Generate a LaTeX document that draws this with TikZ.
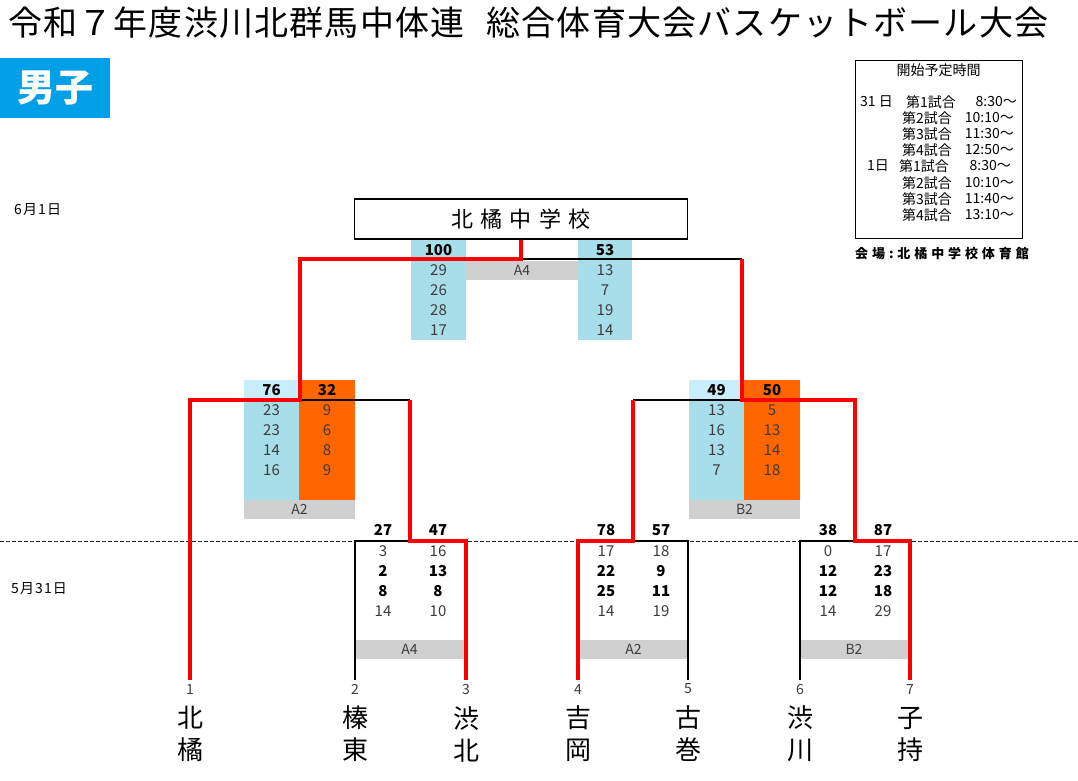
\documentclass[tikz,border=0pt]{standalone}
\usepackage{fontspec}
\setmainfont{Noto Sans CJK JP}
\definecolor{winred}{RGB}{255,0,0}
\definecolor{cellblue}{RGB}{167,222,233}
\definecolor{topblue}{RGB}{200,238,252}
\definecolor{cellorange}{RGB}{255,102,0}
\definecolor{boxgray}{RGB}{208,208,208}
\definecolor{headblue}{RGB}{0,160,233}
\definecolor{numgray}{RGB}{60,60,60}
\begin{document}
\begin{tikzpicture}[x=1pt,y=-1pt,
  win/.style={draw=winred, line width=4pt},
  lose/.style={draw=black, line width=1.1pt},
  sc/.style={inner sep=0pt, font=\fontsize{15}{15}\selectfont, text=numgray},
  scb/.style={inner sep=0pt, font=\fontsize{15}{15}\selectfont\bfseries, text=black},
  gbox/.style={fill=boxgray, inner sep=0pt, minimum height=19pt, font=\fontsize{14}{14}\selectfont, text=numgray},
  sched/.style={inner sep=0pt, font=\fontsize{14}{14}\selectfont},
  numlab/.style={inner sep=0pt, font=\fontsize{14}{14}\selectfont, text=numgray},
  team/.style={inner sep=0pt, align=center, font=\fontsize{26}{32}\selectfont},
  datelab/.style={anchor=west, inner sep=0pt, font=\fontsize{14}{14}\selectfont\addfontfeature{LetterSpace=8}},
]
\useasboundingbox (0,0) rectangle (1078,780);
\fill[white] (0,0) rectangle (1078,780);

% title and header
\node[anchor=west, inner sep=0pt, font=\fontsize{34}{34}\selectfont\addfontfeature{LetterSpace=3.5}] (title) at (8,23) {令和７年度渋川北群馬中体連\hspace{22pt}総合体育大会バスケットボール大会};
\node[fill=headblue, text=white, minimum width=110pt, minimum height=60pt, inner sep=0pt, font=\fontsize{38}{38}\selectfont\bfseries] (hdr) at (55,88) {男子};

% schedule
\node[draw, line width=1.3pt, minimum width=167pt, minimum height=178pt, inner sep=0pt, anchor=north west] (schedbox) at (855,60) {};
\node[sched] (sh) at (938.5,70) {開始予定時間};
\node[sched, anchor=west] (r1d) at (860,102) {31 日};
\node[sched, anchor=west] (r1g) at (906,102) {第1試合};
\node[sched, anchor=east] (r1t) at (1017,102) {8:30～};
\node[sched, anchor=west] (r2g) at (902,118) {第2試合};
\node[sched, anchor=east] (r2t) at (1014,118) {10:10～};
\node[sched, anchor=west] (r3g) at (902,134) {第3試合};
\node[sched, anchor=east] (r3t) at (1014,134) {11:30～};
\node[sched, anchor=west] (r4g) at (902,150) {第4試合};
\node[sched, anchor=east] (r4t) at (1014,150) {12:50～};
\node[sched, anchor=west] (r5d) at (867,166) {1日};
\node[sched, anchor=west] (r5g) at (899,166) {第1試合};
\node[sched, anchor=east] (r5t) at (1011,166) {8:30～};
\node[sched, anchor=west] (r6g) at (902,183) {第2試合};
\node[sched, anchor=east] (r6t) at (1014,183) {10:10～};
\node[sched, anchor=west] (r7g) at (902,199) {第3試合};
\node[sched, anchor=east] (r7t) at (1014,199) {11:40～};
\node[sched, anchor=west] (r8g) at (902,215) {第4試合};
\node[sched, anchor=east] (r8t) at (1014,215) {13:10～};
\node[anchor=west, inner sep=0pt, font=\fontsize{13}{13}\selectfont\bfseries\addfontfeature{LetterSpace=30}] (venue) at (855,254) {会場:北橘中学校体育館};

% dates and day separator
\node[datelab] (d1) at (14,210) {6月1日};
\node[datelab] (d2) at (11,589) {5月31日};
\draw[black!85, line width=0.8pt, dash pattern=on 4pt off 2pt] (0,541) -- (1078,541);

% champion
\node[draw, line width=1.2pt, minimum width=333pt, minimum height=40pt, inner sep=0pt, font=\fontsize{22}{22}\selectfont\addfontfeature{LetterSpace=34}] (champ) at (521,219) {北橘中学校};

% final cells
\fill[cellblue] (411,240) rectangle (466,340);
\fill[cellblue] (578,240) rectangle (632,340);
\node[gbox, minimum width=112pt] (fA4) at (522,270.5) {A4};
\node[scb] (fl0) at (438.5,250) {100};
\node[scb] (fr0) at (605,250) {53};
\foreach \v [count=\i] in {29,26,28,17} \node[sc] (fl\i) at (438.5,250+20*\i) {\v};
\foreach \v [count=\i] in {13,7,19,14} \node[sc] (fr\i) at (605,250+20*\i) {\v};

% semifinal left
\fill[topblue] (244,380) rectangle (299,400);
\fill[cellblue] (244,400) rectangle (299,500);
\fill[cellorange] (299,380) rectangle (355,500);
\node[gbox, minimum width=111pt] (sA2) at (299.5,509.5) {A2};
\node[scb] (sll0) at (271.5,390) {76};
\node[scb] (slr0) at (327,390) {32};
\foreach \v [count=\i] in {23,23,14,16} \node[sc] (sll\i) at (271.5,390+20*\i) {\v};
\foreach \v [count=\i] in {9,6,8,9} \node[sc] (slr\i) at (327,390+20*\i) {\v};

% semifinal right
\fill[topblue] (689,380) rectangle (744,400);
\fill[cellblue] (689,400) rectangle (744,500);
\fill[cellorange] (744,380) rectangle (800,500);
\node[gbox, minimum width=111pt] (sB2) at (744.5,509.5) {B2};
\node[scb] (srl0) at (716.5,390) {49};
\node[scb] (srr0) at (772,390) {50};
\foreach \v [count=\i] in {13,16,13,7} \node[sc] (srl\i) at (716.5,390+20*\i) {\v};
\foreach \v [count=\i] in {5,13,14,18} \node[sc] (srr\i) at (772,390+20*\i) {\v};

% first round: game 2 v 3
\node[gbox, minimum width=109pt] (gA4) at (409.5,649.5) {A4};
\node[scb] (g1a0) at (383,530) {27};
\node[scb] (g1b0) at (438,530) {47};
\foreach \a/\b/\y [count=\i] in {3/16/551,14/10/611} {\node[sc] (g1ga\i) at (383,\y) {\a}; \node[sc] (g1gb\i) at (438,\y) {\b};}
\foreach \a/\b/\y [count=\i] in {2/13/571,8/8/591} {\node[scb] (g1ka\i) at (383,\y) {\a}; \node[scb] (g1kb\i) at (438,\y) {\b};}

% first round: game 4 v 5
\node[gbox, minimum width=109pt] (gA2) at (633.5,649.5) {A2};
\node[scb] (g2a0) at (606,530) {78};
\node[scb] (g2b0) at (661,530) {57};
\foreach \a/\b/\y [count=\i] in {17/18/551,14/19/611} {\node[sc] (g2ga\i) at (606,\y) {\a}; \node[sc] (g2gb\i) at (661,\y) {\b};}
\foreach \a/\b/\y [count=\i] in {22/9/571,25/11/591} {\node[scb] (g2ka\i) at (606,\y) {\a}; \node[scb] (g2kb\i) at (661,\y) {\b};}

% first round: game 6 v 7
\node[gbox, minimum width=108pt] (gB2) at (854,649.5) {B2};
\node[scb] (g3a0) at (828,530) {38};
\node[scb] (g3b0) at (883,530) {87};
\foreach \a/\b/\y [count=\i] in {0/17/551,14/29/611} {\node[sc] (g3ga\i) at (828,\y) {\a}; \node[sc] (g3gb\i) at (883,\y) {\b};}
\foreach \a/\b/\y [count=\i] in {12/23/571,12/18/591} {\node[scb] (g3ka\i) at (828,\y) {\a}; \node[scb] (g3kb\i) at (883,\y) {\b};}

% coordinates
\coordinate (b1) at (190,680);
\coordinate (b2) at (355,680);
\coordinate (b3) at (466,680);
\coordinate (b4) at (578,680);
\coordinate (b5) at (688,680);
\coordinate (b6) at (800,680);
\coordinate (b7) at (910,680);
\coordinate (fJ) at (521,259);
\coordinate (fR) at (742,259);
\coordinate (sLJ) at (300,400);
\coordinate (sLR) at (410,400);
\coordinate (sRL) at (633,400);
\coordinate (sRJ) at (742,400);
\coordinate (q23) at (410,541);
\coordinate (q45) at (633,541);
\coordinate (q67) at (855,541);

% losing lines
\draw[lose] (fJ) -- (fR);
\draw[lose] (sLJ) -- (sLR);
\draw[lose] (sRL) -- (sRJ);
\draw[lose] (q23) -| (b2);
\draw[lose] (q45) -| (b5);
\draw[lose] (q67) -| (b6);

% winning lines
\draw[win] (champ.south) -- (fJ) -| (sLJ) -| (b1);
\draw[win] (b3) |- (q23) -- (sLR);
\draw[win] (fR) -- (sRJ) -| (q67) -| (b7);
\draw[win] (b4) |- (q45) -- (sRL);

% team labels
\foreach \x/\n/\t [count=\i] in {190/1/北\\橘, 355/2/榛\\東, 466/3/渋\\北, 578/4/吉\\岡, 688/5/古\\巻, 800/6/渋\\川, 910/7/子\\持} {
  \node[numlab] (n\i) at (\x,689) {\n};
  \node[team] (t\i) at (\x,734) {\t};
}
\end{tikzpicture}
\end{document}
